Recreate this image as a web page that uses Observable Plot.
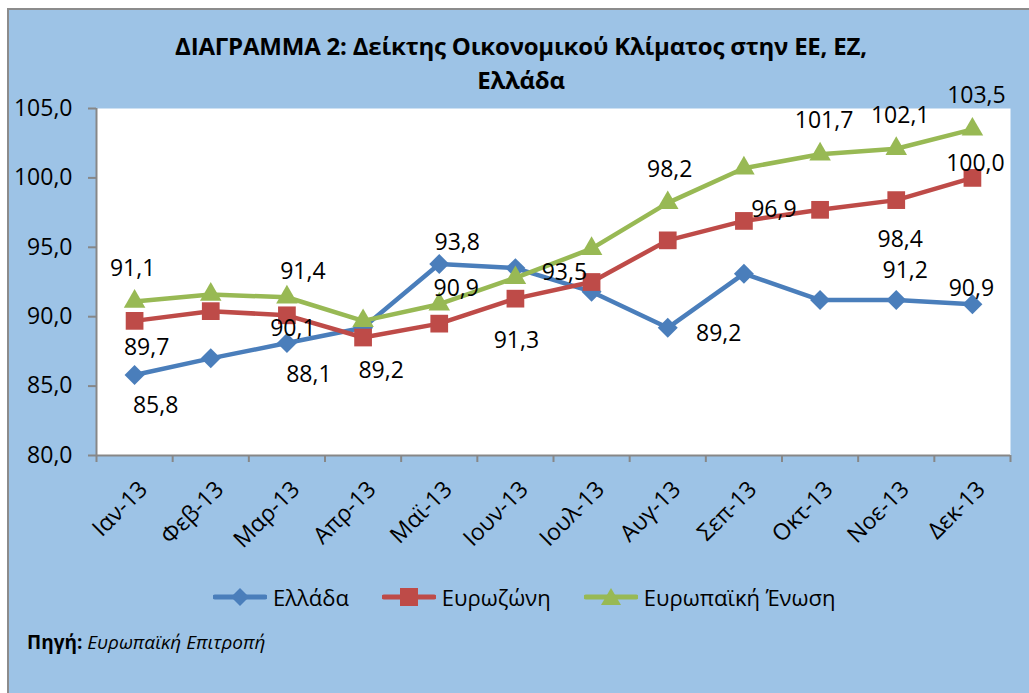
<!DOCTYPE html>
<html>
<head>
<meta charset="utf-8">
<script src="https://cdn.jsdelivr.net/npm/d3@7"></script>
<script src="https://cdn.jsdelivr.net/npm/@observablehq/plot@0.6"></script>
<style>
  html, body { margin: 0; padding: 0; background: #ffffff; width: 1029px; height: 693px; overflow: hidden; font-family: "Open Sans", sans-serif; }
  #box { position: absolute; left: 7px; top: 8px; width: 1022px; height: 685px; background: #9DC3E6; border-left: 2px solid #8c8c8c; border-top: 2px solid #8c8c8c; box-sizing: border-box; }
  #title { position: absolute; left: 0; top: 29px; width: 1042px; text-align: center; font-weight: bold; font-size: 24px; line-height: 34px; color: #000; letter-spacing: -0.2px; }
  #chart { position: absolute; left: 7px; top: 60px; }
  #legend { position: absolute; left: 213px; top: 582px; height: 30px; display: flex; align-items: center; font-size: 22px; color: #000; }
  #legend .item { display: flex; align-items: center; margin-right: 33px; }
  #legend svg { display: block; margin-right: 6px; }
  #source { position: absolute; left: 27px; top: 629px; font-size: 19px; color: #000; }
</style>
</head>
<body>
<div id="box"></div>
<div id="title">ΔΙΑΓΡΑΜΜΑ 2: Δείκτης Οικονομικού Κλίματος στην ΕΕ, ΕΖ,<br>Ελλάδα</div>
<div id="chart"></div>
<div id="legend"></div>
<div id="source"><b>Πηγή:</b> <i>Ευρωπαϊκή Επιτροπή</i></div>
<script>
// ---- data ----
const months = ["Ιαν-13","Φεβ-13","Μαρ-13","Απρ-13","Μαϊ-13","Ιουν-13","Ιουλ-13","Αυγ-13","Σεπ-13","Οκτ-13","Νοε-13","Δεκ-13"];
const seriesNames = ["Ελλάδα","Ευρωζώνη","Ευρωπαϊκή Ένωση"];
const greece   = [85.8, 87.0, 88.1, 89.2, 93.8, 93.5, 91.8, 89.2, 93.1, 91.2, 91.2, 90.9];
const eurozone = [89.7, 90.4, 90.1, 88.5, 89.5, 91.3, 92.5, 95.5, 96.9, 97.7, 98.4, 100.0];
const eu       = [91.1, 91.6, 91.4, 89.7, 90.9, 92.8, 94.9, 98.2, 100.7, 101.7, 102.1, 103.5];
const yTicks = [80, 85, 90, 95, 100, 105];
// labelled points: [series index, month index]
const labelled = [[2,0],[1,0],[0,0],[2,2],[1,2],[0,2],[0,3],[0,4],[2,4],[1,5],[0,5],[2,7],[0,7],[1,8],[2,9],[2,10],[1,10],[0,10],[2,11],[1,11],[0,11]];

// ---- styling ----
const colors = ["#4A7EBB", "#BE4B48", "#98B954"];
const symbols = ["diamond2", "square", "triangle"];
const radii = [9, 10, 8];
const labelOffsets = [[-2,-33],[12,27],[21,31],[16,-26],[6,13],[22,32],[18,43],[18,-21],[17,-16],[1,42],[49,5],[2,-33],[51,6],[30,-11],[4,-34],[4,-33],[4,40],[9,-29],[4,-34],[3,-14],[-1,-16]];
const fmt = v => v.toFixed(1).replace(".", ",");

const allSeries = [greece, eurozone, eu];
const rows = allSeries.map((vals, s) => vals.map((v, i) => ({i, s, v, series: seriesNames[s]})));

const marks = [
  Plot.frame({fill: "white", stroke: null}),
  Plot.ruleY([80], {stroke: "#878787", strokeWidth: 2}),
  Plot.ruleX([-0.5], {stroke: "#878787", strokeWidth: 2}),
  Plot.axisY({ticks: yTicks, tickSize: 8, tickPadding: 16, tickFormat: fmt, stroke: "#878787", strokeWidth: 2, fontSize: 23, label: null}),
  Plot.axisX({ticks: d3.range(13).map(i => i - 0.5), tickSize: 7, tickFormat: () => "", stroke: "#878787", strokeWidth: 2, label: null}),
  Plot.axisX({ticks: d3.range(12), tickSize: 0, tickPadding: 30, tickRotate: -45, tickFormat: i => months[i], fontSize: 23, dx: 9, label: null})
];
rows.forEach((r, s) => {
  marks.push(Plot.line(r, {x: "i", y: "v", stroke: colors[s], strokeWidth: 4.5}));
  marks.push(Plot.dot(r, {x: "i", y: "v", symbol: () => symbols[s], fill: colors[s], stroke: "none", r: radii[s]}));
});
labelled.forEach(([s, i], k) => {
  marks.push(Plot.text([rows[s][i]], {x: "i", y: "v", text: d => fmt(d.v), dx: labelOffsets[k][0], dy: labelOffsets[k][1], fontSize: 23, fill: "black"}));
});

const chart = Plot.plot({
  width: 1022,
  height: 515,
  marginLeft: 89,
  marginRight: 19,
  marginTop: 48,
  marginBottom: 120,
  style: {background: "transparent", fontFamily: "Open Sans", color: "black", overflow: "visible"},
  x: {type: "linear", domain: [-0.5, 11.5], axis: null},
  y: {domain: [80, 105], axis: null},
  symbol: {type: "identity"},
  marks
});
document.getElementById("chart").appendChild(chart);

// ---- legend ----
const legend = document.getElementById("legend");
const shapes = [
  c => `<polygon points="27,1 36,10 27,19 18,10" fill="${c}"/>`,
  c => `<rect x="18" y="1" width="18" height="18" fill="${c}"/>`,
  c => `<polygon points="27,1 37,18 17,18" fill="${c}"/>`
];
seriesNames.forEach((name, s) => {
  const item = document.createElement("div");
  item.className = "item";
  item.innerHTML = `<svg width="54" height="20"><line x1="2" y1="10" x2="52" y2="10" stroke="${colors[s]}" stroke-width="5" stroke-linecap="round"/>${shapes[s](colors[s])}</svg><span>${name}</span>`;
  legend.appendChild(item);
});
</script>
</body>
</html>
